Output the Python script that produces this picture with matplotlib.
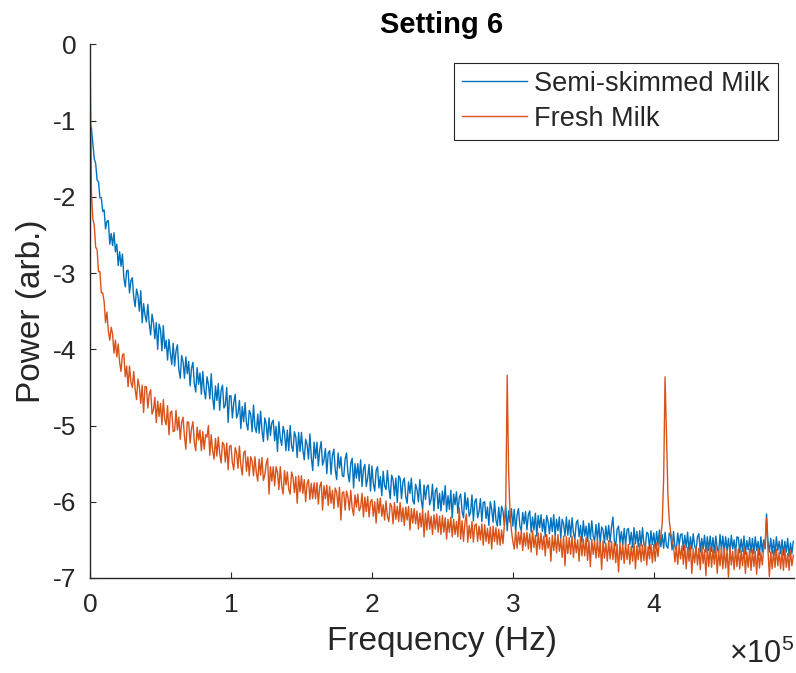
import numpy as np
import matplotlib
matplotlib.use("Agg")
import matplotlib.pyplot as plt
from matplotlib.ticker import FixedLocator, FuncFormatter

plt.rcParams['font.family'] = ['Liberation Sans', 'DejaVu Sans']
plt.rcParams['mathtext.fontset'] = 'custom'
plt.rcParams['mathtext.rm'] = 'Liberation Sans'
plt.rcParams['axes.unicode_minus'] = False

# Power spectra (log10 of power, arbitrary units) sampled every 1 kHz
freq_step_hz = 1000

semi_skimmed = [
    -1.05, -1.10, -1.30, -1.50, -1.56, -1.78, -1.80, -2.01, -2.01, -2.19,
    -2.17, -2.42, -2.32, -2.31, -2.62, -2.48, -2.64, -2.47, -2.72, -2.62,
    -2.90, -2.72, -2.91, -2.75, -3.06, -3.18, -2.97, -2.96, -3.26, -3.10,
    -3.06, -3.32, -3.44, -3.21, -3.29, -3.50, -3.23, -3.65, -3.40, -3.55,
    -3.64, -3.41, -3.66, -3.81, -3.54, -3.65, -3.86, -3.65, -4.00, -3.67,
    -3.74, -4.02, -3.69, -3.99, -3.88, -4.14, -3.87, -4.05, -4.20, -3.92,
    -4.22, -4.02, -3.94, -4.26, -4.38, -4.08, -4.16, -4.38, -4.10, -4.32,
    -4.16, -4.48, -4.25, -4.17, -4.45, -4.56, -4.24, -4.46, -4.31, -4.59,
    -4.29, -4.54, -4.65, -4.36, -4.46, -4.65, -4.32, -4.63, -4.79, -4.48,
    -4.67, -4.45, -4.80, -4.54, -4.47, -4.77, -4.73, -4.50, -4.96, -4.61,
    -4.61, -4.90, -4.70, -4.59, -4.90, -4.84, -4.67, -5.04, -4.75, -4.95,
    -4.70, -4.97, -5.06, -4.80, -4.85, -5.08, -4.73, -5.02, -5.09, -4.85,
    -5.10, -4.81, -5.06, -5.21, -4.90, -4.98, -5.19, -4.90, -5.13, -4.96,
    -4.93, -5.20, -5.01, -5.34, -4.95, -5.17, -5.26, -5.01, -5.10, -5.33,
    -5.06, -5.33, -5.00, -5.27, -5.34, -5.08, -5.15, -5.42, -5.09, -5.34,
    -5.09, -5.32, -5.45, -5.18, -5.25, -5.44, -5.11, -5.42, -5.59, -5.22,
    -5.43, -5.22, -5.53, -5.32, -5.21, -5.52, -5.45, -5.30, -5.63, -5.36,
    -5.33, -5.64, -5.39, -5.31, -5.58, -5.71, -5.36, -5.56, -5.41, -5.66,
    -5.67, -5.44, -5.36, -5.63, -5.74, -5.50, -5.43, -5.82, -5.50, -5.69,
    -5.50, -5.73, -5.45, -5.80, -5.57, -5.51, -5.80, -5.69, -5.51, -5.86,
    -5.53, -5.76, -5.86, -5.59, -5.54, -5.82, -5.67, -5.92, -5.60, -5.79,
    -5.84, -5.59, -5.81, -5.96, -5.65, -5.71, -5.92, -5.69, -6.01, -5.66,
    -5.69, -5.96, -5.74, -5.69, -5.93, -6.02, -5.74, -5.89, -5.69, -5.98,
    -6.03, -5.77, -5.84, -6.00, -5.71, -5.97, -6.10, -5.78, -5.97, -5.81,
    -5.78, -6.04, -5.97, -5.77, -6.12, -5.86, -5.82, -6.09, -5.89, -6.12,
    -5.86, -6.04, -5.79, -6.13, -5.92, -6.10, -5.85, -6.21, -5.90, -6.04,
    -5.87, -6.15, -5.94, -5.90, -6.13, -6.21, -5.88, -6.10, -5.95, -6.19,
    -6.14, -5.91, -6.25, -6.00, -5.96, -6.21, -6.13, -5.96, -6.26, -6.01,
    -6.00, -6.22, -6.07, -6.31, -6.00, -6.10, -6.27, -5.99, -6.24, -6.32,
    -6.07, -6.31, -6.06, -6.12, -6.31, -6.05, -6.38, -6.12, -6.27, -6.09,
    -6.32, -6.10, -6.39, -6.17, -6.09, -6.32, -6.38, -6.14, -6.29, -6.13,
    -6.37, -6.17, -6.12, -6.40, -6.20, -6.37, -6.15, -6.45, -6.18, -6.34,
    -6.17, -6.39, -6.23, -6.46, -6.18, -6.26, -6.42, -6.21, -6.39, -6.17,
    -6.45, -6.23, -6.38, -6.20, -6.48, -6.23, -6.29, -6.45, -6.20, -6.44,
    -6.24, -6.46, -6.21, -6.41, -6.49, -6.28, -6.24, -6.46, -6.31, -6.53,
    -6.25, -6.45, -6.32, -6.52, -6.28, -6.49, -6.25, -6.45, -6.52, -6.30,
    -6.50, -6.28, -6.55, -6.33, -6.37, -6.54, -6.32, -6.50, -6.31, -6.53,
    -6.33, -6.20, -6.51, -6.58, -6.36, -6.32, -6.54, -6.39, -6.57, -6.35,
    -6.57, -6.37, -6.35, -6.56, -6.40, -6.60, -6.34, -6.55, -6.39, -6.59,
    -6.38, -6.58, -6.34, -6.56, -6.60, -6.40, -6.42, -6.62, -6.38, -6.56,
    -6.41, -6.61, -6.39, -6.57, -6.37, -6.59, -6.43, -6.61, -6.40, -6.58,
    -6.61, -6.41, -6.45, -6.63, -6.39, -6.59, -6.63, -6.41, -6.57, -6.43,
    -6.42, -6.64, -6.44, -6.60, -6.40, -6.66, -6.46, -6.62, -6.42, -6.58,
    -6.64, -6.46, -6.42, -6.66, -6.48, -6.62, -6.44, -6.66, -6.46, -6.64,
    -6.45, -6.65, -6.47, -6.67, -6.45, -6.61, -6.67, -6.43, -6.63, -6.45,
    -6.66, -6.46, -6.64, -6.48, -6.68, -6.44, -6.62, -6.50, -6.68, -6.46,
    -6.47, -6.67, -6.49, -6.65, -6.45, -6.69, -6.51, -6.63, -6.47, -6.67,
    -6.48, -6.68, -6.46, -6.64, -6.52, -6.70, -6.46, -6.66, -6.50, -6.62,
    -6.16, -6.52, -6.66, -6.48, -6.68, -6.50, -6.70, -6.46, -6.64, -6.52,
    -6.68, -6.50, -6.70, -6.52, -6.66, -6.48, -6.72, -6.54, -6.68, -6.52,
]

fresh = [
     0.00, -1.95, -2.29, -2.37, -2.66, -2.69, -2.98, -2.98, -3.26, -3.26,
    -3.37, -3.65, -3.51, -3.76, -3.88, -3.71, -3.80, -4.05, -3.88, -4.10,
    -3.93, -4.17, -4.29, -4.07, -4.06, -4.36, -4.22, -4.49, -4.22, -4.43,
    -4.50, -4.29, -4.52, -4.66, -4.39, -4.49, -4.71, -4.47, -4.83, -4.49,
    -4.49, -4.77, -4.59, -4.53, -4.85, -4.79, -4.63, -4.96, -4.68, -4.88,
    -4.71, -4.99, -4.66, -4.92, -4.99, -4.74, -5.12, -4.83, -4.81, -5.08,
    -5.07, -4.80, -5.06, -4.89, -5.18, -4.96, -4.89, -5.14, -5.31, -4.95,
    -4.96, -5.23, -5.04, -4.95, -5.22, -5.33, -5.02, -5.19, -5.06, -5.33,
    -5.08, -5.31, -5.12, -5.15, -5.00, -5.39, -5.12, -5.33, -5.44, -5.17,
    -5.40, -5.15, -5.36, -5.49, -5.22, -5.25, -5.48, -5.23, -5.58, -5.27,
    -5.26, -5.49, -5.58, -5.29, -5.36, -5.56, -5.27, -5.52, -5.65, -5.36,
    -5.33, -5.60, -5.41, -5.66, -5.41, -5.47, -5.66, -5.41, -5.62, -5.73,
    -5.44, -5.65, -5.42, -5.72, -5.65, -5.50, -5.43, -5.90, -5.54, -5.73,
    -5.54, -5.79, -5.54, -5.61, -5.84, -5.54, -5.79, -5.90, -5.59, -5.78,
    -5.61, -5.84, -5.90, -5.61, -5.68, -5.88, -5.67, -6.02, -5.66, -5.87,
    -5.66, -5.89, -5.71, -6.00, -5.76, -5.71, -5.97, -5.76, -5.96, -5.75,
    -5.96, -5.75, -6.03, -5.80, -5.74, -6.11, -5.79, -5.96, -5.78, -6.05,
    -5.80, -6.02, -5.85, -6.09, -5.82, -5.88, -6.07, -5.81, -6.24, -5.88,
    -5.87, -6.11, -5.86, -5.94, -6.11, -5.85, -6.08, -6.18, -5.91, -6.07,
    -5.90, -6.12, -6.07, -5.89, -6.20, -5.94, -6.13, -5.93, -6.20, -6.00,
    -5.97, -6.19, -6.00, -6.28, -5.96, -6.15, -5.95, -6.19, -6.04, -6.24,
    -5.99, -6.19, -6.26, -6.02, -6.06, -6.29, -6.01, -6.23, -6.06, -6.26,
    -6.01, -6.26, -6.08, -6.31, -6.07, -6.24, -6.06, -6.37, -6.09, -6.28,
    -6.09, -6.29, -6.12, -6.36, -6.15, -6.33, -6.10, -6.46, -6.15, -6.37,
    -6.12, -6.36, -6.19, -6.43, -6.17, -6.36, -6.16, -6.40, -6.19, -6.43,
    -6.18, -6.40, -6.21, -6.49, -6.23, -6.40, -6.20, -6.46, -6.23, -6.43,
    -6.26, -6.46, -6.08, -6.49, -6.25, -6.52, -6.28, -6.16, -6.53, -6.31,
    -6.48, -6.26, -6.53, -6.31, -6.29, -6.52, -6.32, -6.50, -6.29, -6.57,
    -6.30, -6.52, -6.35, -6.55, -6.33, -6.62, -6.32, -6.52, -6.34, -6.56,
    -6.36, -6.57, -6.37, -6.55, -6.30, -6.00, -4.34, -5.60, -6.15, -6.38,
    -6.52, -6.62, -6.38, -6.61, -6.40, -6.56, -6.38, -6.64, -6.41, -6.58,
    -6.40, -6.62, -6.42, -6.66, -6.38, -6.60, -6.44, -6.70, -6.41, -6.62,
    -6.41, -6.63, -6.45, -6.71, -6.43, -6.61, -6.47, -6.78, -6.44, -6.64,
    -6.45, -6.67, -6.43, -6.65, -6.49, -6.73, -6.45, -6.84, -6.46, -6.68,
    -6.47, -6.69, -6.45, -6.73, -6.49, -6.67, -6.50, -6.78, -6.46, -6.71,
    -6.49, -6.71, -6.47, -6.77, -6.51, -6.85, -6.49, -6.69, -6.52, -6.74,
    -6.49, -6.73, -6.53, -6.89, -6.51, -6.74, -6.54, -6.78, -6.51, -6.75,
    -6.52, -6.76, -6.54, -6.80, -6.56, -6.92, -6.54, -6.76, -6.57, -6.81,
    -6.54, -6.76, -6.56, -6.82, -6.58, -6.78, -6.54, -6.88, -6.58, -6.76,
    -6.55, -6.79, -6.57, -6.77, -6.53, -6.83, -6.59, -6.75, -6.56, -6.80,
    -6.56, -6.78, -6.54, -6.72, -6.52, -6.45, -6.28, -5.70, -4.36, -5.10,
    -5.90, -6.25, -6.40, -6.52, -6.58, -6.79, -6.59, -6.82, -6.57, -6.75,
    -6.58, -6.82, -6.57, -6.88, -6.60, -6.78, -6.58, -6.94, -6.62, -6.80,
    -6.59, -6.83, -6.61, -6.89, -6.57, -6.81, -6.63, -6.97, -6.59, -6.85,
    -6.60, -6.86, -6.62, -6.82, -6.58, -6.94, -6.64, -6.84, -6.60, -6.88,
    -6.61, -6.87, -6.63, -6.99, -6.59, -6.83, -6.65, -6.89, -6.61, -6.85,
    -6.62, -6.88, -6.64, -6.84, -6.60, -6.94, -6.66, -6.86, -6.62, -6.90,
    -6.63, -6.85, -6.65, -6.95, -6.61, -6.87, -6.67, -6.83, -6.60, -6.55,
    -6.22, -6.62, -6.98, -6.66, -6.88, -6.64, -6.86, -6.62, -6.84, -6.66,
    -6.88, -6.64, -6.90, -6.62, -6.86, -6.68, -6.90, -6.64, -6.84, -6.70,
]

series_labels = ["Semi-skimmed Milk", "Fresh Milk"]
series_colors = ["#0072BD", "#D95319"]
x_ticks = [0, 1e5, 2e5, 3e5, 4e5]
y_ticks = [-7, -6, -5, -4, -3, -2, -1, 0]

freq = np.arange(len(semi_skimmed)) * freq_step_hz

ink = "#262626"
fig = plt.figure(figsize=(7.96, 6.73), dpi=100)
ax = fig.add_axes([0.1131, 0.1412, 0.8844, 0.7927])

for vals, lab, col in zip([semi_skimmed, fresh], series_labels, series_colors):
    ax.plot(freq, vals, color=col, lw=1.0, label=lab)

ax.set_xlim(0, 4.995e5)
ax.set_ylim(-7, 0)
ax.xaxis.set_major_locator(FixedLocator(x_ticks))
ax.xaxis.set_major_formatter(FuncFormatter(lambda v, p: f"{v / 1e5:g}"))
ax.yaxis.set_major_locator(FixedLocator(y_ticks))
ax.yaxis.set_major_formatter(FuncFormatter(lambda v, p: f"{v:g}"))

for side in ("top", "right"):
    ax.spines[side].set_visible(False)
for side in ("left", "bottom"):
    ax.spines[side].set_color(ink)
    ax.spines[side].set_linewidth(1.0)

ax.tick_params(direction="in", length=4, width=0.8, color=ink,
               labelcolor=ink, labelsize=19)
ax.tick_params(axis="x", pad=11)
ax.tick_params(axis="y", pad=10)

ax.set_xlabel("Frequency (Hz)", fontsize=24, color=ink, labelpad=6.5)
ax.set_ylabel("Power (arb.)", fontsize=24, color=ink, labelpad=4)
ax.set_title("Setting 6", fontsize=21, fontweight="bold", color="black", pad=8)

fig.text(0.997, 1 - 663 / 673, r"$\times10^{5}$", ha="right", va="baseline",
         fontsize=22, color=ink)

leg = ax.legend(loc="upper right", bbox_to_anchor=(0.977, 0.966),
                borderaxespad=0, fontsize=19.5, handlelength=2.4,
                handletextpad=0.25, labelspacing=0.33, borderpad=0.3,
                fancybox=False, framealpha=1, edgecolor=ink)
leg.get_frame().set_linewidth(0.8)
for t in leg.get_texts():
    t.set_color(ink)

fig.savefig("out.png", dpi=100)
